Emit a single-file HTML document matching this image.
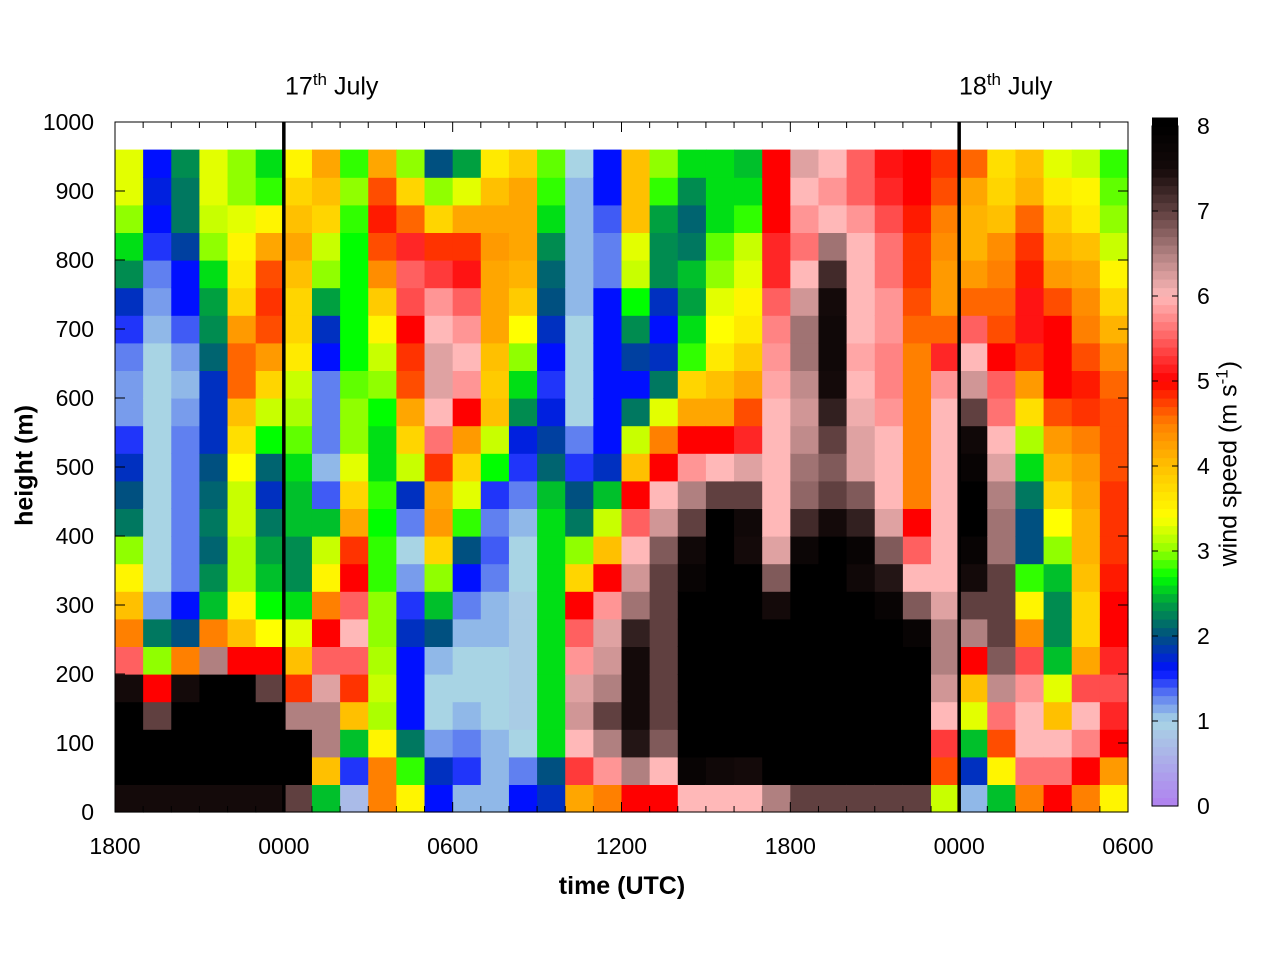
<!DOCTYPE html>
<html><head><meta charset="utf-8"><style>
html,body{margin:0;padding:0;background:#fff;}
svg{display:block;font-family:"Liberation Sans",sans-serif;}
</style></head><body>
<svg id="chart" width="1280" height="960" viewBox="0 0 1280 960">
<g id="cells"></g>
<g id="axes"></g>
</svg>
<script>
// ---- data ----
const hourLabels = ["1800","0000","0600","1200","1800","0000","0600"];
const heightTicks = [0,100,200,300,400,500,600,700,800,900,1000];
const cbarTicks = [0,1,2,3,4,5,6,7,8];
const binHeight = 40; // m
const col0=[7.5,8,8,8,7.5,5.5,4.5,4,3.5,3,2.2,2,1.8,1.5,1.2,1.2,1.3,1.5,1.8,2.3,2.6,3,3.3,3.3];
const col1=[7.5,8,8,7,5,3,2.2,1.2,1,1,1,1,1,1,1,1,1,1.1,1.2,1.3,1.5,1.6,1.7,1.6];
const col2=[7.5,8,8,8,7.5,4.5,2,1.6,1.3,1.3,1.3,1.3,1.3,1.3,1.2,1.1,1.2,1.4,1.6,1.6,1.9,2.2,2.2,2.3];
const col3=[7.5,8,8,8,8,6.5,4.5,2.5,2.3,2.1,2.2,2.1,2,1.8,1.8,1.8,2.1,2.3,2.4,2.6,3,3.2,3.3,3.3];
const col4=[7.5,8,8,8,8,5,4,3.5,3.1,3.1,3.2,3.2,3.4,3.7,4,4.6,4.6,4.3,3.8,3.6,3.5,3.3,3,3];
const col5=[7.5,8,8,8,7,5,3.4,2.7,2.5,2.4,2.2,1.8,2.1,2.7,3.2,3.8,4.3,4.7,4.8,4.7,4.2,3.5,2.8,2.6];
const col6=[7,8,8,6.5,4.8,4,3.3,2.6,2.3,2.3,2.5,2.5,2.6,2.9,3.1,3.2,3.6,3.8,3.8,4,4.2,4,3.8,3.5];
const col7=[2.5,4,6.5,6.5,6.2,5.5,5,4.5,3.5,3.2,2.5,1.4,1.1,1.3,1.3,1.3,1.6,1.8,2.4,3,3.2,3.8,4,4.2];
const col8=[0.7,1.5,2.5,4,4.8,5.5,6,5.5,5,4.8,4.2,3.8,3.3,3,3,2.9,2.7,2.7,2.7,2.7,2.7,2.8,3,2.8];
const col9=[4.5,4.5,3.5,3.1,3.2,3.1,3,3,2.8,2.8,2.7,2.8,2.6,2.6,2.7,3,3.2,3.5,3.9,4.4,4.7,4.9,4.7,4.2];
const col10=[3.5,2.8,2.2,1.6,1.6,1.6,1.8,1.5,1.2,1,1.3,1.8,3.2,3.8,4.2,4.7,4.8,5,5.4,5.5,5.2,4.6,3.8,3];
const col11=[1.6,1.8,1.2,1,1,1.1,2,2.5,3,3.8,4.3,4.2,4.8,5.6,6,6.2,6.2,6,5.8,5.3,4.8,3.8,3,2];
const col12=[1.1,1.5,1.3,1.1,1,1,1.1,1.3,1.6,2,2.8,3.3,3.8,4.3,5,5.8,6,5.8,5.5,5.1,4.8,4.2,3.3,2.4];
const col13=[1.1,1.1,1.1,1,1,1,1.1,1.1,1.3,1.4,1.3,1.5,2.7,3.2,4,3.9,4,4.2,4.2,4.2,4.3,4.2,4,3.6];
const col14=[1.6,1.3,1,0.9,0.9,0.9,0.9,0.9,1,1,1.1,1.3,1.5,1.7,2.3,2.6,3,3.4,3.9,4.1,4.2,4.2,4.2,3.9];
const col15=[1.8,2,2.6,2.6,2.6,2.6,2.6,2.6,2.6,2.6,2.6,2.5,2.1,1.9,1.7,1.5,1.6,1.8,2,2.1,2.3,2.6,2.8,2.9];
const col16=[4.2,5.3,6,6.3,6.2,5.8,5.5,5,3.8,3,2.2,2,1.5,1.3,1,1,1,1,1.1,1.1,1.1,1.1,1.1,1];
const col17=[4.5,5.8,6.5,7,6.5,6.3,6.2,5.8,5,4,3.2,2.5,1.8,1.6,1.6,1.6,1.6,1.6,1.6,1.3,1.3,1.4,1.6,1.6];
const col18=[5,6.5,7.4,7.5,7.5,7.5,7.3,6.6,6.3,6,5.5,5,4,3.2,2.2,1.6,1.9,2.3,2.7,3.2,3.3,4,4,4];
const col19=[5,6,6.8,7,7,7,7,7,7,6.8,6.3,6,5,4.5,3.3,2.2,1.8,1.6,1.8,2.3,2.3,2.4,2.8,3];
const col20=[6,7.8,8,8,8,8,8,8,7.8,7.6,7,6.5,5.8,5,4.2,3.8,2.8,2.6,2.4,2.5,2.2,2.1,2.3,2.6];
const col21=[6,7.6,8,8,8,8,8,8,8,8,8,7,6,5,4.2,4,3.6,3.4,3.3,3,2.9,2.6,2.6,2.6];
const col22=[6,7.5,8,8,8,8,8,8,8,7.5,7.6,7,6.2,5.2,4.7,4.2,3.9,3.6,3.5,3.3,3.2,2.8,2.6,2.5];
const col23=[6.5,8,8,8,8,8,8,7.5,6.8,6.2,6,6,6,6,6,5.9,5.8,5.7,5.5,5.2,5.2,5,5,5];
const col24=[7,8,8,8,8,8,8,8,8,7.7,7.2,6.7,6.6,6.4,6.3,6.4,6.6,6.6,6.3,6,5.6,5.8,6,6.2];
const col25=[7,8,8,8,8,8,8,8,8,8,7.5,7,6.8,7,7.3,7.5,7.6,7.6,7.5,7.2,6.6,6,5.8,6];
const col26=[7,8,8,8,8,8,8,8,7.6,7.8,7.3,6.8,6.2,6.2,6.1,6,5.9,6,6,6,6,5.8,5.5,5.5];
const col27=[7,8,8,8,8,8,8,7.8,7.4,6.8,6.2,6,6,6,5.8,5.7,5.7,5.8,5.8,5.6,5.6,5.4,5.2,5.1];
const col28=[7,8,8,8,8,8,7.8,6.8,6,5.5,5,4.5,4.5,4.5,4.5,4.5,4.5,4.6,4.7,4.8,4.8,4.9,5,5];
const col29=[3.2,4.7,5.3,6,6.3,6.5,6.5,6.2,6,6,6,6,6,6,6,5.8,5.2,4.6,4.3,4.3,4.4,4.5,4.7,4.8];
const col30=[1.1,1.8,2.5,3.3,4,5,6.5,7,7.5,7.8,8,8,7.8,7.6,7,6.3,6,5.5,4.6,4.3,4.1,4.1,4.2,4.6];
const col31=[2.5,3.5,4.7,5.6,6.4,6.8,7,7,7,6.6,6.6,6.5,6.2,6,5.6,5.5,5,4.7,4.6,4.5,4.4,4,3.8,3.7];
const col32=[4.5,5.6,6,6,5.8,5.4,4.4,3.5,2.8,2,2,2.2,2.6,3.1,3.7,4.3,4.8,5.1,5.1,4.9,4.8,4.6,4.1,4];
const col33=[5,5.6,6,4,3.3,2.5,2.3,2.3,2.5,3,3.4,3.8,4.1,4.3,4.7,5,5,5,4.7,4.3,4.1,3.9,3.6,3.3];
const col34=[4.5,5,5.7,6,5.4,4.2,3.8,3.8,4,4.1,4.1,4.2,4.3,4.5,4.8,4.9,4.7,4.5,4.4,4.2,4,3.6,3.5,3.2];
const col35=[3.5,4.3,5,5.2,5.4,5.2,5,5,4.9,4.8,4.8,4.8,4.7,4.7,4.7,4.6,4.4,4.1,3.8,3.5,3.2,3,2.9,2.8];
const speedColumns=[col0,col1,col2,col3,col4,col5,col6,col7,col8,col9,col10,col11,col12,col13,col14,col15,col16,col17,col18,col19,col20,col21,col22,col23,col24,col25,col26,col27,col28,col29,col30,col31,col32,col33,col34,col35];

// ---- scales ----
const X0=115,X1=1128,Y0=812,Y1=122,NH=36;
const xScale = h => X0 + h*(X1-X0)/NH;
const yScale = m => Y0 - m*(Y0-Y1)/1000;
const CB_TOP=126,CB_BOT=806;
const cScale = v => CB_BOT - v*(CB_BOT-CB_TOP)/8;
const stops=[[0,[176,128,240]],[1,[168,212,228]],[1.3,[96,128,240]],[1.6,[0,16,255]],[2,[0,80,128]],[2.4,[0,160,64]],[2.7,[0,255,0]],[3,[144,255,0]],[3.4,[255,255,0]],[4,[255,192,0]],[4.5,[255,128,0]],[5,[255,0,0]],[5.5,[255,96,96]],[6,[255,184,184]],[6.5,[176,128,128]],[7,[96,64,64]],[7.5,[20,10,10]],[8,[0,0,0]]];
function color(v){
  v=Math.max(0,Math.min(8,v));
  for(let i=1;i<stops.length;i++){
    if(v<=stops[i][0]){const a=stops[i-1],b=stops[i];const t=(v-a[0])/(b[0]-a[0]);
      const c=a[1].map((x,k)=>Math.round(x+(b[1][k]-x)*t));return `rgb(${c[0]},${c[1]},${c[2]})`;}
  }
  return 'rgb(0,0,0)';
}
const NS="http://www.w3.org/2000/svg";
function mk(tag,attrs,parent){const e=document.createElementNS(NS,tag);for(const k in attrs)e.setAttribute(k,attrs[k]);parent.appendChild(e);return e;}
const cells=document.getElementById('cells');
speedColumns.forEach((col,i)=>{
  col.forEach((v,j)=>{
    const x=xScale(i),x2=xScale(i+1),y=yScale((j+1)*binHeight),y2=yScale(j*binHeight);
    const r=mk('rect',{x:x,y:y,width:x2-x+0.6,height:y2-y+0.6,fill:color(v)},cells);
    
    
  });
});
const ax=document.getElementById('axes');
const fr=mk('rect',{x:X0,y:Y1,width:X1-X0,height:Y0-Y1,fill:'none',stroke:'#000','stroke-width':1},ax);


for(let h=0;h<=NH;h++){
  const x=xScale(h);const len=(h%6===0)?10:6;
  mk('line',{x1:x,y1:Y0,x2:x,y2:Y0-len,stroke:'#000'},ax);
  mk('line',{x1:x,y1:Y1,x2:x,y2:Y1+len,stroke:'#000'},ax);
}
hourLabels.forEach((lab,k)=>{
  const t=mk('text',{x:xScale(k*6),y:854,'font-size':23,'text-anchor':'middle'},ax);
  t.textContent=lab;
  
  
});
heightTicks.forEach(m=>{
  const y=yScale(m);
  mk('line',{x1:X0,y1:y,x2:X0+10,y2:y,stroke:'#000'},ax);
  mk('line',{x1:X1,y1:y,x2:X1-10,y2:y,stroke:'#000'},ax);
  const t=mk('text',{x:94,y:y+8,'font-size':23,'text-anchor':'end'},ax);
  t.textContent=m;
  
  
});
[6,30].forEach(h=>{
  const l=mk('line',{x1:xScale(h),y1:Y1,x2:xScale(h),y2:Y0,stroke:'#000','stroke-width':3.5},ax);
  
  
});
const cb=mk('g',{},ax);


for(let v=0;v<8;v+=0.1){
  mk('rect',{x:1152,y:cScale(v+0.1),width:26,height:(CB_BOT-CB_TOP)/80+0.6,fill:color(v+0.05)},cb);
}
mk('rect',{x:1152,y:CB_TOP,width:26,height:CB_BOT-CB_TOP,fill:'none',stroke:'#000'},cb);
cbarTicks.forEach(v=>{
  const y=cScale(v);
  mk('line',{x1:1152,y1:y,x2:1158,y2:y,stroke:'#000'},cb);
  mk('line',{x1:1172,y1:y,x2:1178,y2:y,stroke:'#000'},cb);
  const t=mk('text',{x:1197,y:y+8,'font-size':23},cb);
  t.textContent=v;
  
  
});
</script>
<div style="position:absolute;left:0;top:0;width:1280px;height:960px;pointer-events:none;font-family:'Liberation Sans',sans-serif;">
  <div style="position:absolute;left:285px;top:70px;font-size:25px;">17<sup style="font-size:17px">th</sup> July</div>
  <div style="position:absolute;left:959px;top:70px;font-size:25px;">18<sup style="font-size:17px">th</sup> July</div>
  <div style="position:absolute;left:522px;top:872px;width:200px;text-align:center;font-size:25px;font-weight:bold;">time (UTC)</div>
  <div style="position:absolute;left:-75px;top:451px;width:200px;text-align:center;font-size:25px;font-weight:bold;transform:rotate(-90deg);">height (m)</div>
  <div style="position:absolute;left:1103px;top:448px;width:250px;text-align:center;font-size:25px;transform:rotate(-90deg);">wind speed (m s<sup style="font-size:17px">-1</sup>)</div>
</div>
</body></html>
